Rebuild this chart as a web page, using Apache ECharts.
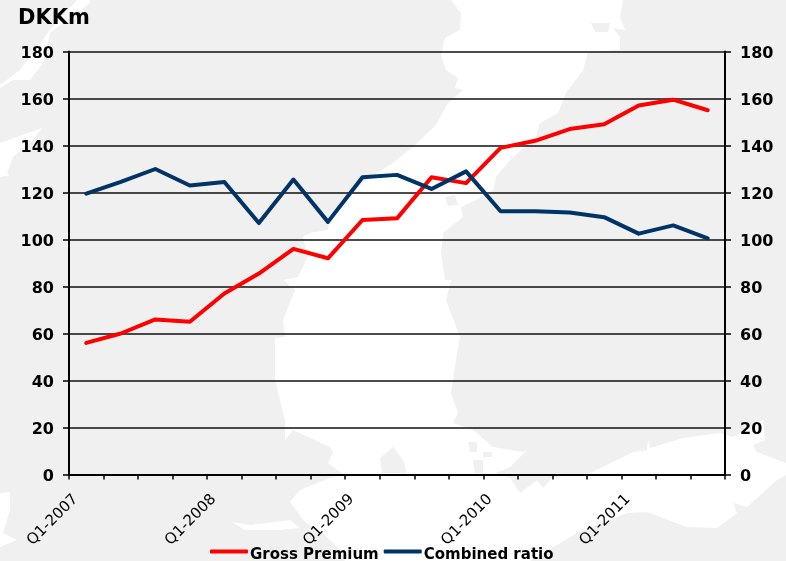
<!DOCTYPE html>
<html><head><meta charset="utf-8">
<style>html,body{margin:0;padding:0;background:#fff}#c{width:786px;height:561px}</style>
<script src="https://cdn.jsdelivr.net/npm/echarts@6/dist/echarts.min.js"></script>
</head><body><div id="c"></div>
<script>
const categories=["Q1-2007","Q2-2007","Q3-2007","Q4-2007","Q1-2008","Q2-2008","Q3-2008","Q4-2008","Q1-2009","Q2-2009","Q3-2009","Q4-2009","Q1-2010","Q2-2010","Q3-2010","Q4-2010","Q1-2011","Q2-2011","Q3-2011"];
const grossPremium=[56,60,66,65,77,85.5,96,92,108.3,109,126.5,124,139,142,147,149,157,159.5,155];
const combinedRatio=[119.5,124.5,130,123,124.5,107,125.5,107.5,126.5,127.5,121.5,129,112,112,111.5,109.5,102.5,106,100.5];
const unitLabel="DKKm";
const FONT='"DejaVu Sans"';

// decorative backdrop map (page-space shapes, not data)
const seaShapes=[
 [[623,0],[620,17],[625,30],[613,28],[620,37],[620,50],[588,52],[583,70],[566,93],[558,113],[540,123],[536,137],[510,160],[496,177],[493,190],[476,200],[461,207],[463,217],[443,233],[441,253],[445,280],[451,280],[446,300],[460,337],[456,360],[451,393],[458,413],[453,423],[473,430],[493,447],[523,452],[527,450],[510,467],[495,473],[510,478],[520,493],[537,480],[543,488],[553,477],[588,474],[617,460],[633,452],[647,450],[648,440],[650,448],[667,443],[683,438],[720,433],[733,437],[763,420],[765,440],[753,445],[757,452],[786,463],[786,475],[777,480],[747,507],[733,503],[737,513],[717,528],[687,527],[647,512],[627,513],[577,533],[530,561],[345,561],[337,547],[325,535],[305,522],[290,502],[300,490],[330,478],[343,474],[328,463],[333,453],[330,447],[293,430],[285,440],[285,420],[278,393],[275,377],[275,338],[285,337],[283,320],[295,290],[283,280],[298,277],[308,257],[303,237],[310,233],[328,230],[330,217],[350,197],[363,182],[393,163],[400,157],[413,147],[436,125],[448,103],[463,90],[455,88],[458,78],[446,70],[441,55],[445,38],[460,30],[461,13],[451,0]],
 [[0,493],[10,492],[10,510],[3,533],[17,540],[0,547]],
 [[90,0],[77,0],[50,30],[20,70],[0,85],[0,88],[13,80],[30,80],[43,63],[50,33],[90,3]],
 [[0,143],[42,128],[33,140],[13,157],[7,173],[10,175],[0,177]],
 [[232,522],[250,525],[290,520],[300,528],[280,530],[245,530]]
];
const landShapes=[
 [[380,458],[393,447],[403,460],[407,473],[382,473]],
 [[468,442],[477,442],[477,452],[470,452]],
 [[483,452],[492,452],[492,457],[483,457]],
 [[473,460],[483,460],[483,473],[475,473]],
 [[591,23],[610,23],[608,32],[595,32]],
 [[445,197],[455,195],[458,205],[448,206]]
];
const shape=(pts,fill)=>({type:'polygon',silent:true,z:-10,shape:{points:pts},style:{fill}});
const axisStyle={lineStyle:{color:'#000',width:2}};
const yAxisBase={type:'value',min:0,max:180,interval:20,
  axisLine:{show:true,...axisStyle},axisTick:{show:true,length:6,lineStyle:{color:'#000',width:1.5}},
  axisLabel:{color:'#000',fontFamily:FONT,fontWeight:'bold',fontSize:16,margin:15,verticalAlign:'top',lineHeight:4}};

const chart=echarts.init(document.getElementById('c'),null,{renderer:'canvas'});
chart.setOption({
 animation:false,backgroundColor:'#f0f0f0',
 graphic:{elements:[
   ...seaShapes.map(p=>shape(p,'#ffffff')),
   ...landShapes.map(p=>shape(p,'#f0f0f0')),
   {type:'text',left:18,top:8,z:5,style:{text:unitLabel,fill:'#000',font:'bold 21px '+FONT}}
 ]},
 grid:{left:69,right:61,top:51.5,bottom:86.5,containLabel:false},
 legend:{left:210,top:548,padding:0,itemWidth:38,itemHeight:4,itemGap:5,icon:'roundRect',
   formatter:'{a|{name}}',
   textStyle:{color:'#000',fontFamily:FONT,fontWeight:'bold',fontSize:15,padding:[0,0,0,-3],
     rich:{a:{color:'#000',fontFamily:FONT,fontWeight:'bold',fontSize:15,padding:[8,0,0,0]}}},
   data:['Gross Premium','Combined ratio']},
 xAxis:{type:'category',data:categories,boundaryGap:true,
   axisLine:{show:true,onZero:false,...axisStyle},
   axisTick:{show:true,length:5,interval:0,lineStyle:{color:'#000',width:1.5}},
   axisLabel:{interval:3,rotate:45,color:'#000',fontFamily:FONT,fontSize:15,fontWeight:'normal',margin:12,padding:[0,15,0,0],hideOverlap:false}},
 yAxis:[
   {...yAxisBase,position:'left',splitLine:{show:true,lineStyle:{color:'#111',width:1.5}}},
   {...yAxisBase,position:'right',splitLine:{show:false}}
 ],
 series:[
   {name:'Gross Premium',type:'line',data:grossPremium,yAxisIndex:0,symbol:'none',itemStyle:{color:'#ff0000'},lineStyle:{color:'#ff0000',width:4,cap:'round',join:'round'}},
   {name:'Combined ratio',type:'line',data:combinedRatio,yAxisIndex:1,symbol:'none',itemStyle:{color:'#003366'},lineStyle:{color:'#003366',width:4,cap:'round',join:'round'}}
 ]
});
</script></body></html>
